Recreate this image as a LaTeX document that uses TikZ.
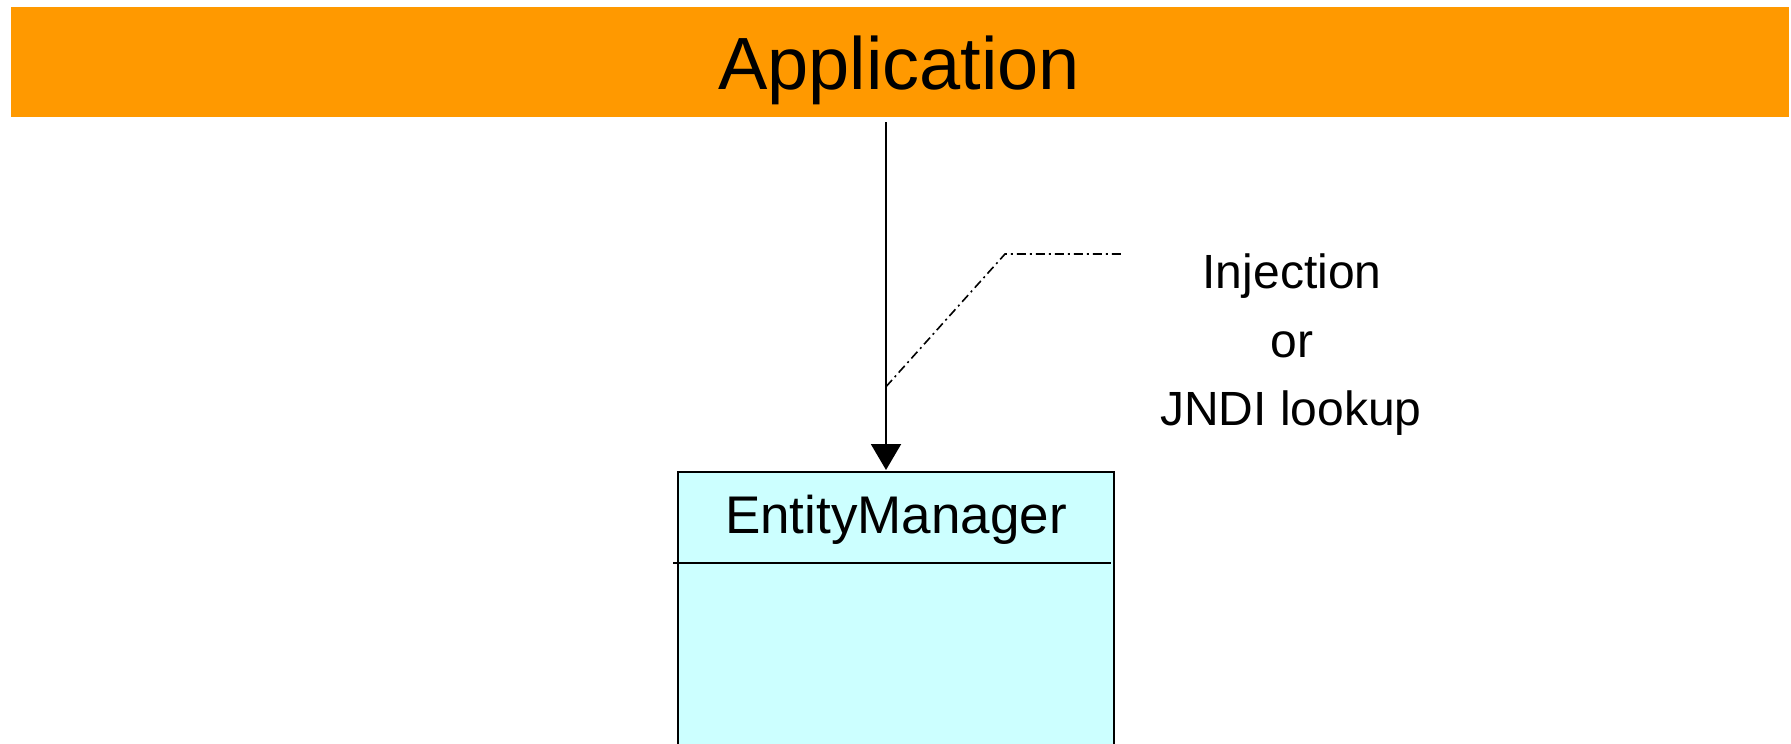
\documentclass[tikz,border=0pt]{standalone}
\usepackage{fontspec}
\setmainfont{Liberation Sans}
\usetikzlibrary{arrows.meta}
\definecolor{appOrange}{HTML}{FF9900}
\definecolor{classCyan}{HTML}{CCFFFF}
\begin{document}
\begin{tikzpicture}[x=1pt,y=-1pt,
  appbar/.style={rectangle, fill=appOrange, inner sep=0pt, minimum width=1778pt, minimum height=110pt},
  classbox/.style={rectangle, draw=black, line width=2pt, fill=classCyan, inner sep=0pt,
                   minimum width=436pt, minimum height=300pt, anchor=north west},
  note/.style={anchor=base, inner sep=0pt, font=\fontsize{48}{58}\selectfont},
  leader/.style={line width=1.6pt, dash pattern=on 9pt off 4pt on 2pt off 4pt}
]
\useasboundingbox (0,0) rectangle (1791,744);

% application layer
\node[appbar] (app) at (900,62) {};
\node[anchor=base, inner sep=0pt, font=\fontsize{74}{80}\selectfont] (applabel) at (899,89) {Application};

% EntityManager class box
\node[classbox] (em) at (676.7,470.7) {};
\node[anchor=base, inner sep=0pt, font=\fontsize{53}{60}\selectfont] (emlabel) at (896,533) {EntityManager};
\draw[line width=2pt] (673,563) coordinate (divl) -- (1111,563) coordinate (divr);

% dependency arrow
\coordinate (src) at (886,122);
\coordinate (dst) at (886,470);
\draw[line width=2pt, -{Triangle[length=26pt,width=30pt]}] (src) -- (dst);

% annotation
\coordinate (anchorpt) at (886,386.7);
\coordinate (bend) at (1005,254);
\coordinate (tail) at (1123,254);
\draw[leader] (anchorpt) -- (bend) -- (tail);
\node[note] (n1) at (1292,288) {Injection};
\node[note] (n2) at (1292,357) {or};
\node[note] (n3) at (1291,425) {JNDI lookup};
\end{tikzpicture}
\end{document}
